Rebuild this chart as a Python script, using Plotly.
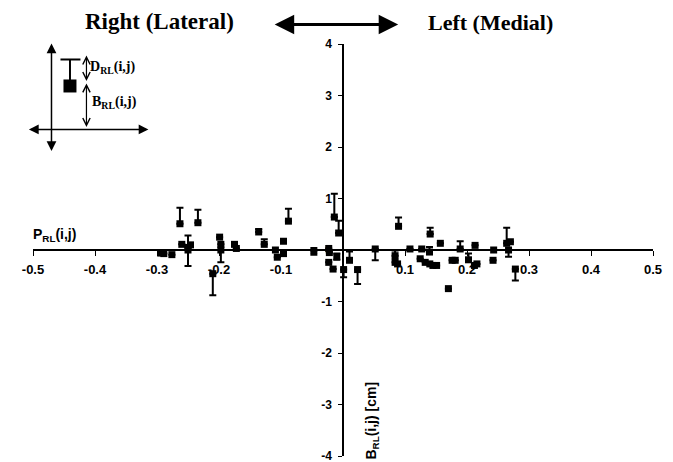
import plotly.graph_objects as go

# ---- data ----
x_pos = [-0.294, -0.289, -0.276, -0.263, -0.26, -0.25, -0.25, -0.246, -0.234,
         -0.21, -0.199, -0.197, -0.197, -0.175, -0.172, -0.136, -0.127,
         -0.109, -0.106, -0.096, -0.096, -0.088, -0.047, -0.023, -0.022,
         -0.014, -0.007, -0.01, -0.023, -0.016, 0.001, 0.0105, 0.0235,
         0.052, 0.0896, 0.084, 0.084, 0.088, 0.108, 0.127, 0.1406, 0.1395,
         0.1245, 0.1326, 0.14, 0.145, 0.151, 0.157, 0.17, 0.176, 0.181,
         0.189, 0.2024, 0.213, 0.216, 0.212, 0.243, 0.242, 0.264, 0.27,
         0.267, 0.278]
y_bias = [-0.06, -0.07, -0.09, 0.51, 0.11, 0.05, 0.0, 0.1, 0.53,
          -0.46, 0.25, 0.11, 0.0, 0.11, 0.03, 0.35, 0.11,
          0.0, -0.14, 0.17, -0.07, 0.56, -0.01, 0.03, -0.05,
          0.64, 0.33, -0.13, -0.24, -0.37, -0.38, -0.2, -0.38,
          0.02, 0.46, -0.11, -0.24, -0.27, 0.02, 0.02, 0.31, -0.04,
          -0.17, -0.24, -0.27, -0.3, -0.3, 0.13, -0.75, -0.2, -0.2,
          0.02, -0.19, 0.09, -0.27, -0.3, 0.0, -0.2, 0.13, 0.16,
          0.0, -0.37]
dev_up = [0, 0, 0, 0.31, 0, 0.23, 0, 0, 0.25,
          0, 0, 0, 0, 0, 0, 0.06, 0.1,
          0, 0, 0, 0, 0.24, 0, 0, 0,
          0.45, 0.24, 0.06, 0, 0, 0, 0.17, 0,
          0, 0.17, 0.1, 0, 0, 0, 0, 0.12, 0.1,
          0, 0, 0, 0, 0, 0, 0, 0, 0,
          0.15, 0.12, 0, 0, 0, 0, 0, 0.3, 0,
          0, 0]
dev_down = [0, 0, 0, 0, 0, 0, 0.31, 0, 0,
            0.42, 0, 0, 0.24, 0, 0, 0, 0,
            0, 0, 0, 0, 0, 0.08, 0, 0,
            0, 0, 0.06, 0, 0, 0.15, 0, 0.28,
            0.22, 0, 0, 0, 0, 0, 0, 0, 0,
            0, 0, 0, 0, 0, 0, 0, 0, 0,
            0, 0, 0, 0, 0, 0, 0, 0, 0,
            0.13, 0.22]

x_ticks = [-0.5, -0.4, -0.3, -0.2, -0.1, 0.1, 0.2, 0.3, 0.4, 0.5]
x_tick_labels = ["-0.5", "-0.4", "-0.3", "-0.2", "-0.1", "0.1", "0.2", "0.3", "0.4", "0.5"]
y_ticks = [-4, -3, -2, -1, 0, 1, 2, 3, 4]
y_tick_labels = ["-4", "-3", "-2", "-1", "0", "1", "2", "3", "4"]

# page body adds an 8px offset; work in page pixels and shift into figure pixels
OFF = 8
W, H = 673 - OFF, 462 - OFF
L, R, T, B = 32.5 - OFF, 653.0 - OFF, 43.5 - OFF, 455.7 - OFF


def px(xp):
    return (xp - OFF - L) / (R - L)


def py(yp):
    return (B - (yp - OFF)) / (B - T)


fig = go.Figure()
fig.add_trace(go.Scatter(
    x=x_pos, y=y_bias, mode="markers",
    marker=dict(symbol="square", size=7, color="black"),
    error_y=dict(type="data", symmetric=False, array=dev_up, arrayminus=dev_down,
                 color="black", thickness=2, width=3.5),
    showlegend=False,
))

tick_font_x = dict(family="Liberation Sans", size=13, color="black", weight="bold")
tick_font_y = dict(family="Liberation Sans", size=12, color="black", weight="bold")

fig.update_layout(
    width=W, height=H,
    margin=dict(l=L, r=W - R, t=T, b=H - B, pad=0),
    plot_bgcolor="white", paper_bgcolor="white",
    xaxis=dict(range=[-0.5, 0.5], anchor="free", position=0.5,
               showgrid=False, zeroline=False, showline=True, linecolor="black",
               linewidth=1.5, ticks="outside", ticklen=5, tickcolor="black",
               tickvals=x_ticks, ticktext=x_tick_labels, tickfont=tick_font_x,
               automargin=False, ticklabelstandoff=3, ticklabeloverflow="allow"),
    yaxis=dict(range=[-4, 4], anchor="free", position=0.5,
               showgrid=False, zeroline=False, showline=True, linecolor="black",
               linewidth=1.5, ticks="outside", ticklen=4, tickcolor="black",
               tickvals=y_ticks, ticktext=y_tick_labels, tickfont=tick_font_y,
               automargin=False, ticklabelstandoff=4, ticklabeloverflow="allow"),
)

serif_b = dict(family="Liberation Serif", color="black", weight="bold")
sans_b = dict(family="Liberation Sans", color="black", weight="bold")


def label(xp, yp, text, font, xanchor="center", **kw):
    return dict(x=px(xp), y=py(yp), xref="paper", yref="paper", text=text,
                showarrow=False, font=font, xanchor=xanchor, yanchor="middle", **kw)


def arrow(x_head, y_head, dx, dy, head, width, size):
    return dict(x=px(x_head), y=py(y_head), xref="paper", yref="paper", ax=dx, ay=dy,
                text="", showarrow=True, arrowhead=head, startarrowhead=head,
                arrowside="end+start", arrowwidth=width, arrowsize=size,
                startarrowsize=size, arrowcolor="black")


ann = [
    label(159, 21, "Right (Lateral)", dict(size=23, **serif_b)),
    label(490, 22, "Left (Medial)", dict(size=22, **serif_b)),
    arrow(398, 24, -125, 0, 2, 3, 1.3),
    label(30, 235, "P<sub>RL</sub>(i,j)", dict(size=14, **sans_b), xanchor="left"),
    label(372, 420, "B<sub>RL</sub>(i,j) [cm]", dict(size=14, **sans_b), textangle=-90),
    # inset diagram
    arrow(51, 43, 0, 109, 2, 1.5, 1.3),
    arrow(148, 129, -121, 0, 2, 1.5, 1.3),
    arrow(86, 55, 0, 27, 5, 1.2, 1.2),
    arrow(86, 83, 0, 45, 5, 1.2, 1.2),
    label(88, 67, "D<sub>RL</sub>(i,j)", dict(size=14, **serif_b), xanchor="left"),
    label(90, 102, "B<sub>RL</sub>(i,j)", dict(size=14, **serif_b), xanchor="left"),
]

shapes = [
    dict(type="rect", xref="paper", yref="paper", x0=px(63), x1=px(76), y0=py(92), y1=py(79),
         fillcolor="black", line=dict(width=0)),
    dict(type="line", xref="paper", yref="paper", x0=px(69.5), x1=px(69.5), y0=py(59), y1=py(80),
         line=dict(color="black", width=2)),
    dict(type="line", xref="paper", yref="paper", x0=px(60), x1=px(80), y0=py(59), y1=py(59),
         line=dict(color="black", width=2)),
]

fig.update_layout(annotations=ann, shapes=shapes)
fig.write_html("out.html")
